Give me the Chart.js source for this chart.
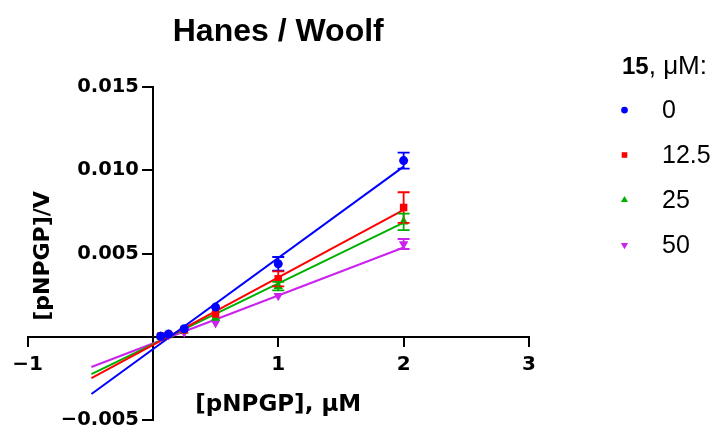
<!DOCTYPE html>
<html><head><meta charset="utf-8">
<script src="https://cdn.jsdelivr.net/npm/chart.js@4.4.0/dist/chart.umd.min.js"></script>
<style>html,body{margin:0;padding:0;background:#fff;}#wrap{width:718px;height:429px;}</style>
</head><body><div id="wrap"><canvas id="c" width="718" height="429"></canvas></div>
<script>
// ---------- data ----------
const chartTitle = 'Hanes / Woolf';
const xTitle = '[pNPGP], \u03bcM';
const yTitle = '[pNPGP]/V';
const legendTitleBold = '15';
const legendTitleRest = ', \u03bcM:';
const seriesLabels = ['0', '12.5', '25', '50'];
const substrate = [0.0625, 0.125, 0.25, 0.5, 1, 2];
const vals0  = [0.00003, 0.00016, 0.00048, 0.00178, 0.00438, 0.01058];
const vals12 = [0.00004, 0.00014, 0.00042, 0.00136, 0.00348, 0.00776];
const vals25 = [0.00002, 0.00012, 0.00036, 0.00112, 0.00304, 0.00690];
const vals50 = [0.00002, 0.00010, 0.00026, 0.00082, 0.00246, 0.00557];
const err0  = [0.00003, 0.00003, 0.00005, 0.00010, 0.00041, 0.00048];
const err12 = [0.00002, 0.00003, 0.00005, 0.00010, 0.00045, 0.00092];
const err25 = [0.00002, 0.00003, 0.00005, 0.00010, 0.00026, 0.00050];
const err50 = [0.00002, 0.00002, 0.00003, 0.00005, 0.00012, 0.00030];
const fitX   = [-0.49, 2];
const fit0   = [-0.00344, 0.01022];
const fit12  = [-0.00248, 0.00762];
const fit25  = [-0.00224, 0.00686];
const fit50  = [-0.00182, 0.00536];
const xTicks = [-1, 0, 1, 2, 3];
const yTicks = [-0.005, 0, 0.005, 0.010, 0.015];

// ---------- styles ----------
const colors = ['#0000ff', '#ff0000', '#00b000', '#cc22ee'];
const styles = [
  {pointStyle: 'circle', rotation: 0, radius: 4.5},
  {pointStyle: 'rect', rotation: 0, radius: 5.3},
  {pointStyle: 'triangle', rotation: 0, radius: 5.5},
  {pointStyle: 'triangle', rotation: 180, radius: 5.5}
];
const allVals = [vals0, vals12, vals25, vals50];
const allErr = [err0, err12, err25, err50];
const allFit = [fit0, fit12, fit25, fit50];

const datasets = [];
allFit.forEach((f, i) => {
  datasets.push({
    type: 'line', label: 'fit ' + seriesLabels[i],
    data: fitX.map((x, k) => ({x: x, y: f[k]})),
    borderColor: colors[i], borderWidth: 2, pointRadius: 0, fill: false,
    showLine: true, order: 2, tension: 0
  });
});
allVals.forEach((v, i) => {
  datasets.push({
    type: 'scatter', label: seriesLabels[i],
    data: substrate.map((x, k) => ({x: x, y: v[k]})),
    backgroundColor: colors[i], borderColor: colors[i], borderWidth: 0,
    pointStyle: styles[i].pointStyle, rotation: styles[i].rotation,
    pointRadius: styles[i].radius, showLine: false, order: 1,
    errors: allErr[i]
  });
});

const fmtMinus = (s) => s.replace('-', '\u2212');
const fmtY = (v) => Math.abs(v) < 1e-9 ? '' : fmtMinus(v.toFixed(3));

const errorBars = {
  id: 'errorBars',
  afterDatasetsDraw(chart) {
    const ctx = chart.ctx, xs = chart.scales.x, ys = chart.scales.y;
    ctx.save();
    chart.data.datasets.forEach((ds) => {
      if (!ds.errors) return;
      ctx.strokeStyle = ds.borderColor;
      ctx.lineWidth = 1.8;
      ds.data.forEach((p, k) => {
        const e = ds.errors[k];
        const px = xs.getPixelForValue(p.x);
        const yt = ys.getPixelForValue(p.y + e);
        const yb = ys.getPixelForValue(p.y - e);
        if (Math.abs(yb - yt) < 8) return;
        ctx.beginPath();
        ctx.moveTo(px, yt); ctx.lineTo(px, yb);
        ctx.moveTo(px - 6, yt); ctx.lineTo(px + 6, yt);
        ctx.moveTo(px - 6, yb); ctx.lineTo(px + 6, yb);
        ctx.stroke();
      });
    });
    ctx.restore();
  }
};

const extras = {
  id: 'extras',
  afterDraw(chart) {
    const ctx = chart.ctx, xs = chart.scales.x, ys = chart.scales.y;
    // y tick labels (placed left of the tick marks)
    ctx.save();
    ctx.fillStyle = '#000';
    ctx.font = 'bold 19.5px "DejaVu Sans"';
    ctx.textAlign = 'right';
    ctx.textBaseline = 'middle';
    const ax = xs.getPixelForValue(0);
    yTicks.forEach((v) => {
      const lab = fmtY(v);
      if (lab) ctx.fillText(lab, ax - 14, ys.getPixelForValue(v));
    });
    ctx.restore();

    // y axis title
    ctx.save();
    ctx.fillStyle = '#000';
    ctx.font = 'bold 22px "DejaVu Sans"';
    ctx.textAlign = 'center';
    ctx.textBaseline = 'middle';
    ctx.translate(43, 256);
    ctx.rotate(-Math.PI / 2);
    ctx.fillText(yTitle, 0, 0);
    ctx.restore();

    // legend
    ctx.save();
    ctx.fillStyle = '#000';
    ctx.textBaseline = 'middle';
    ctx.textAlign = 'left';
    ctx.font = 'bold 24px "Liberation Sans"';
    const tx = 622;
    ctx.fillText(legendTitleBold, tx, 67);
    const w = ctx.measureText(legendTitleBold).width;
    ctx.font = '26px "Liberation Sans"';
    ctx.fillText(legendTitleRest, tx + w, 67);
    const rows = [110, 155, 200, 245];
    seriesLabels.forEach((lab, i) => {
      ctx.fillStyle = colors[i];
      ctx.strokeStyle = colors[i];
      Chart.helpers.drawPoint(ctx, {pointStyle: styles[i].pointStyle, rotation: styles[i].rotation, radius: styles[i].radius * 0.75, borderWidth: 0}, 624.5, rows[i]);
      ctx.fillStyle = '#000';
      ctx.font = '25px "Liberation Sans"';
      ctx.fillText(lab, 662, rows[i] + 1);
    });
    ctx.restore();
  }
};

new Chart(document.getElementById('c'), {
  type: 'scatter',
  data: {datasets: datasets},
  options: {
    responsive: false,
    animation: false,
    events: [],
    layout: {padding: {left: 27.5, right: 189, top: 0, bottom: 9}},
    plugins: {
      legend: {display: false},
      tooltip: {enabled: false},
      title: {
        display: true, text: chartTitle, color: '#000',
        font: {family: 'Liberation Sans', weight: 'bold', size: 32, lineHeight: 1.2},
        padding: {top: 13, bottom: 35.6}
      }
    },
    scales: {
      x: {
        type: 'linear', min: -1, max: 3,
        position: {y: 0},
        afterBuildTicks: (s) => { s.ticks = xTicks.map(v => ({value: v})); },
        grid: {display: true, drawOnChartArea: false, drawTicks: true, tickLength: 9, color: '#000', lineWidth: 2},
        border: {display: true, color: '#000', width: 2},
        ticks: {
          color: '#000', padding: 7, maxRotation: 0, autoSkip: false,
          font: {family: 'DejaVu Sans', weight: 'bold', size: 20, lineHeight: 1.2},
          callback: (v) => v === 0 ? '' : fmtMinus(String(v))
        },
        title: {
          display: true, text: xTitle, color: '#000',
          font: {family: 'DejaVu Sans', weight: 'bold', size: 23, lineHeight: 1.2},
          padding: {top: 7, bottom: 0}
        }
      },
      y: {
        type: 'linear', min: -0.005, max: 0.015,
        position: {x: 0},
        afterBuildTicks: (s) => { s.ticks = yTicks.map(v => ({value: v})); },
        grid: {display: true, drawOnChartArea: false, drawTicks: true, tickLength: 10, color: '#000', lineWidth: 2},
        border: {display: true, color: '#000', width: 2},
        ticks: {display: false},
        title: {display: false}
      }
    }
  },
  plugins: [errorBars, extras]
});
</script>
</body></html>
